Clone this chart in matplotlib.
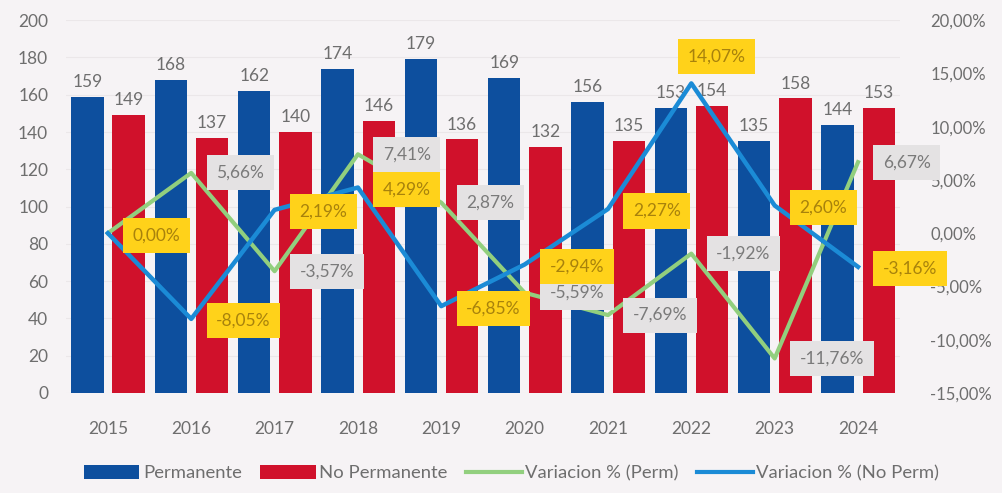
import matplotlib
matplotlib.use("Agg")
import matplotlib.pyplot as plt
from matplotlib.patches import Patch
from matplotlib.lines import Line2D
import numpy as np

years = ["2015", "2016", "2017", "2018", "2019", "2020", "2021", "2022", "2023", "2024"]
permanente = [159, 168, 162, 174, 179, 169, 156, 153, 135, 144]
no_permanente = [149, 137, 140, 146, 136, 132, 135, 154, 158, 153]
var_perm = [None, 5.66, -3.57, 7.41, 2.87, -5.59, -7.69, -1.92, -11.76, 6.67]
var_noperm = [0.00, -8.05, 2.19, 4.29, -6.85, -2.94, 2.27, 14.07, 2.60, -3.16]
left_ticks = [0, 20, 40, 60, 80, 100, 120, 140, 160, 180, 200]
right_ticks = [-15, -10, -5, 0, 5, 10, 15, 20]

# label offsets (pixels) for the percentage boxes
perm_off = [(25, 0)] * 10
noperm_off = [(25, -2)] * 7 + [(-4, 27)] + [(25, -2)] * 2

plt.rcParams['font.family'] = ['Lato', 'DejaVu Sans']
BG = '#f6f3f5'
GRAYTXT = '#6e6e6e'
C_BLUE = '#0d4f9e'
C_RED = '#d0112b'
C_GREEN = '#92cf7e'
C_LBLUE = '#1b8bd6'

fig = plt.figure(figsize=(10.03, 4.93), dpi=100, facecolor=BG)
ax = fig.add_axes([0.066, 0.203, 0.831, 0.756], facecolor=BG)
ax2 = ax.twinx()

x = np.arange(len(years))
w = 0.39
ax.bar(x - 0.245, permanente, w, color=C_BLUE, zorder=2)
ax.bar(x + 0.25, no_permanente, w, color=C_RED, zorder=2)
for xi, v in zip(x, permanente):
    ax.annotate(str(v), (xi - 0.245, v), xytext=(0, 5), textcoords='offset points',
                ha='center', va='bottom', fontsize=12.5, color=GRAYTXT)
for xi, v in zip(x, no_permanente):
    ax.annotate(str(v), (xi + 0.25, v), xytext=(0, 5), textcoords='offset points',
                ha='center', va='bottom', fontsize=12.5, color=GRAYTXT)

ax.set_ylim(0, 200)
ax.set_yticks(left_ticks)
ax.set_xlim(-0.5, len(years) - 0.5)
ax.set_xticks(x)
ax.set_xticklabels(years)
ax.tick_params(axis='y', length=0, pad=13, labelsize=12.5, labelcolor=GRAYTXT)
ax.tick_params(axis='x', length=0, pad=20, labelsize=12.5, labelcolor=GRAYTXT)
ax.grid(axis='y', color='#ebe7e9', lw=0.8, zorder=0)
ax.set_axisbelow(True)
for s in ax.spines.values():
    s.set_visible(False)

vp = np.array([np.nan if v is None else v for v in var_perm], dtype=float)
vp_plot = vp.copy()
vp_plot[0] = 0.0
ax2.plot(x, vp_plot, color=C_GREEN, lw=3, zorder=3)
ax2.plot(x, var_noperm, color=C_LBLUE, lw=3.2, zorder=4)
ax2.set_ylim(-15, 20)
ax2.set_yticks(right_ticks)
ax2.set_yticklabels([f"{t:.2f}%".replace('.', ',') for t in right_ticks])
ax2.tick_params(axis='y', length=0, pad=22, labelsize=12, labelcolor=GRAYTXT)
for s in ax2.spines.values():
    s.set_visible(False)

def fmt(v):
    return f"{v:.2f}%".replace('.', ',')

for i, v in enumerate(var_perm):
    if v is None:
        continue
    dx, dy = perm_off[i]
    ax2.annotate(fmt(v), (x[i], v), xytext=(dx * 0.72, dy * 0.72), textcoords='offset points',
                 ha='left', va='center', fontsize=12.5, color='#7a7a7a', zorder=6,
                 bbox=dict(boxstyle='square,pad=0.55', fc='#e4e2e3', ec='none'))
for i, v in enumerate(var_noperm):
    dx, dy = noperm_off[i]
    ax2.annotate(fmt(v), (x[i], v), xytext=(dx * 0.72, dy * 0.72), textcoords='offset points',
                 ha='left', va='center', fontsize=12.5, color='#a8820c', zorder=7,
                 bbox=dict(boxstyle='square,pad=0.55', fc='#ffd21a', ec='none'))

handles = [Patch(fc=C_BLUE, ec='none'), Patch(fc=C_RED, ec='none'),
           Line2D([], [], color=C_GREEN, lw=3), Line2D([], [], color=C_LBLUE, lw=3)]
labels = ["Permanente", "No Permanente", "Variacion % (Perm)", "Variacion % (No Perm)"]
leg = fig.legend(handles, labels, loc='lower center', bbox_to_anchor=(0.51, -0.01), ncol=4,
                 frameon=False, fontsize=13.3, handlelength=3.0, handleheight=0.8,
                 columnspacing=1.0, handletextpad=0.2)
for t in leg.get_texts():
    t.set_color(GRAYTXT)

fig.savefig("out.png", dpi=100, facecolor=BG)
